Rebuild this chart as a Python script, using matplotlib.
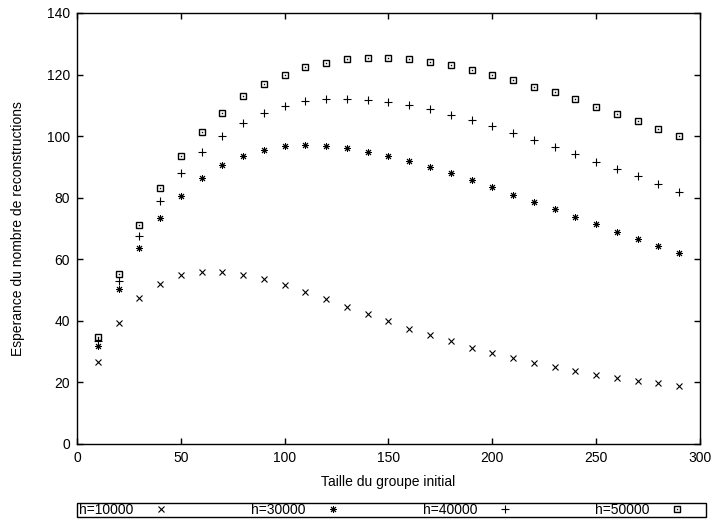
import matplotlib
matplotlib.use('Agg')
import matplotlib.pyplot as plt
from matplotlib.patches import Rectangle
from matplotlib.legend_handler import HandlerTuple

plt.rcParams['font.family'] = ['Liberation Sans', 'DejaVu Sans']

# Taille du groupe initial
taille = [10, 20, 30, 40, 50, 60, 70, 80, 90, 100, 110, 120, 130, 140, 150,
          160, 170, 180, 190, 200, 210, 220, 230, 240, 250, 260, 270, 280, 290]

# Esperance du nombre de reconstructions, par valeur de h
h10000 = [26.5, 39.4, 47.3, 52.1, 54.8, 55.8, 55.8, 55.0, 53.5, 51.6,
          49.5, 47.0, 44.6, 42.2, 39.9, 37.5, 35.3, 33.3, 31.3, 29.6,
          27.9, 26.4, 25.0, 23.7, 22.5, 21.5, 20.5, 19.7, 18.8]
h30000 = [31.9, 50.3, 63.7, 73.3, 80.7, 86.4, 90.6, 93.6, 95.4, 96.7,
          97.0, 96.8, 96.1, 95.0, 93.6, 91.9, 90.1, 87.9, 85.7, 83.4,
          81.0, 78.5, 76.2, 73.7, 71.3, 68.9, 66.5, 64.3, 62.0]
h40000 = [33.5, 52.9, 67.7, 79.0, 87.9, 94.7, 100.1, 104.3, 107.5, 109.8,
          111.3, 111.9, 112.1, 111.8, 111.0, 110.0, 108.7, 107.0, 105.3, 103.2,
          101.1, 98.8, 96.5, 94.2, 91.7, 89.3, 86.9, 84.5, 82.0]
h50000 = [34.6, 55.3, 71.0, 83.2, 93.4, 101.2, 107.6, 112.9, 116.9, 120.0,
          122.3, 123.9, 124.9, 125.3, 125.3, 124.9, 124.0, 123.0, 121.5, 119.9,
          118.2, 116.1, 114.2, 111.9, 109.6, 107.3, 104.9, 102.4, 100.0]

fig = plt.figure(figsize=(7.12, 5.21), dpi=100)
ax = fig.add_axes([0.1081, 0.1478, 0.875, 0.8273])

p1, = ax.plot(taille, h10000, linestyle='none', marker='x', ms=4.5, mew=0.8, color='black')
p2, = ax.plot(taille, h30000, linestyle='none', marker=(8, 2, 0), ms=5, mew=0.7, color='black')
p3, = ax.plot(taille, h40000, linestyle='none', marker='+', ms=5.5, mew=0.8, color='black')
p4a, = ax.plot(taille, h50000, linestyle='none', marker='s', ms=5, mew=1.0,
               fillstyle='none', color='black')
p4b, = ax.plot(taille, h50000, linestyle='none', marker='s', ms=1.0, mew=0, color='black')

ax.set_xlim(0, 300)
ax.set_ylim(0, 140)
ax.set_xticks(range(0, 301, 50))
ax.set_yticks(range(0, 141, 20))
ax.tick_params(direction='in', length=4.5, width=1, top=True, right=True,
               labelsize=10, pad=5)
for s in ax.spines.values():
    s.set_linewidth(1.0)

ax.set_xlabel("Taille du groupe initial", fontsize=10, va='center')
ax.set_ylabel("Esperance du nombre de reconstructions", fontsize=10, va='center')
ax.xaxis.set_label_coords(0.5, -0.0875)
ax.yaxis.set_label_coords(-0.0947, 0.5)

# legende en bas, dans un cadre
fig.patches.append(Rectangle((77 / 712, 4 / 521), 629 / 712, 14 / 521,
                             transform=fig.transFigure, fill=False,
                             edgecolor='black', linewidth=1.0))
leg = fig.legend([p1, p2, p3, (p4a, p4b)], ["h=10000", "h=30000", "h=40000", "h=50000"],
                 handler_map={tuple: HandlerTuple(ndivide=1, pad=0)},
                 loc='center', bbox_to_anchor=(79 / 712, 0.021, 605 / 712, 0),
                 ncol=4, mode='expand', markerfirst=False, fontsize=10,
                 handlelength=1.0, handletextpad=1.5, borderpad=0, borderaxespad=0,
                 frameon=False)

fig.savefig('out.png', dpi=100)
